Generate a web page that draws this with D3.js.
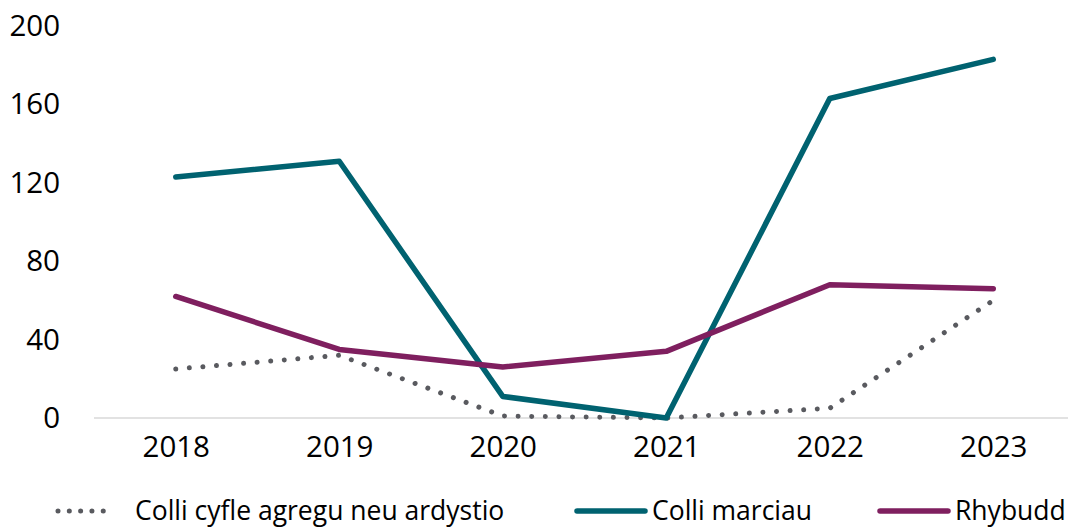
<!DOCTYPE html>
<html>
<head>
<meta charset="utf-8">
<script src="https://cdn.jsdelivr.net/npm/d3@7"></script>
<style>
	body { margin: 0; background: #fff; }
	svg { display: block; font-family: "Open Sans", "Noto Sans", sans-serif; }
</style>
</head>
<body>
<div id="chart"></div>
<script>
const years = ["2018", "2019", "2020", "2021", "2022", "2023"];
const yTicks = [0, 40, 80, 120, 160, 200];

const cyfleValues = [25, 32, 1, 0, 5, 60];
const marciauValues = [123, 131, 11, 0, 163, 183];
const rhybuddValues = [62, 35, 26, 34, 68, 66];

const seriesNames = ["Colli cyfle agregu neu ardystio", "Colli marciau", "Rhybudd"];

const series = [
	{ name: seriesNames[0], values: cyfleValues, color: "#595a5f", dotted: true },
	{ name: seriesNames[1], values: marciauValues, color: "#006270", dotted: false },
	{ name: seriesNames[2], values: rhybuddValues, color: "#7f1f5f", dotted: false }
];

const width = 1068, height = 528;

const svg = d3.select("#chart")
	.append("svg")
	.attr("width", width)
	.attr("height", height);

const x = d3.scalePoint()
	.domain(years)
	.range([94, 1075])
	.padding(0.5);

const y = d3.scaleLinear()
	.domain([0, 200])
	.range([418, 26]);

// Baseline
svg.append("line")
	.attr("x1", 94)
	.attr("x2", 1075)
	.attr("y1", y(0))
	.attr("y2", y(0))
	.attr("stroke", "#d9d9d9")
	.attr("stroke-width", 1.5);

// y axis labels
const yAxis = d3.axisLeft(y)
	.tickValues(yTicks)
	.tickSize(0)
	.tickPadding(0);

svg.append("g")
	.attr("transform", "translate(60,0)")
	.call(yAxis)
	.call(g => g.select(".domain").remove())
	.selectAll("text")
	.attr("font-size", 29.5)
	.attr("font-family", "'Open Sans', sans-serif")
	.attr("fill", "#000");

// x axis labels
const xAxis = d3.axisBottom(x)
	.tickSize(0)
	.tickPadding(0);

svg.append("g")
	.attr("transform", "translate(0,436)")
	.call(xAxis)
	.call(g => g.select(".domain").remove())
	.selectAll("text")
	.attr("font-size", 29.5)
	.attr("font-family", "'Open Sans', sans-serif")
	.attr("fill", "#000");

const line = d3.line()
	.x((d, i) => x(years[i]))
	.y(d => y(d));

// Draw series (dotted first so the solid lines sit on top)
series.forEach(s => {
	svg.append("path")
		.datum(s.values)
		.attr("d", line)
		.attr("fill", "none")
		.attr("stroke", s.color)
		.attr("stroke-width", s.dotted ? 5 : 5.5)
		.attr("stroke-linecap", "round")
		.attr("stroke-linejoin", "round")
		.attr("stroke-dasharray", s.dotted ? "0.01 13.6" : null);
});

// Legend
const legendY = 511;
const legendStarts = [58, 575, 878];
const legend = svg.append("g").attr("class", "legend");

series.forEach((s, i) => {
	const x0 = legendStarts[i];
	const symW = s.dotted ? 57 : 72;
	legend.append("line")
		.attr("x1", x0 + (s.dotted ? 0 : 2))
		.attr("x2", x0 + symW - 2)
		.attr("y1", legendY)
		.attr("y2", legendY)
		.attr("stroke", s.color)
		.attr("stroke-width", s.dotted ? 5 : 5.5)
		.attr("stroke-linecap", "round")
		.attr("stroke-dasharray", s.dotted ? "0.01 11.3" : null);

	legend.append("text")
		.attr("x", x0 + symW + (s.dotted ? 20 : 5))
		.attr("y", legendY)
		.attr("dy", "0.35em")
		.attr("font-size", 26.5)
		.attr("fill", "#000")
		.text(s.name);
});
</script>
</body>
</html>
